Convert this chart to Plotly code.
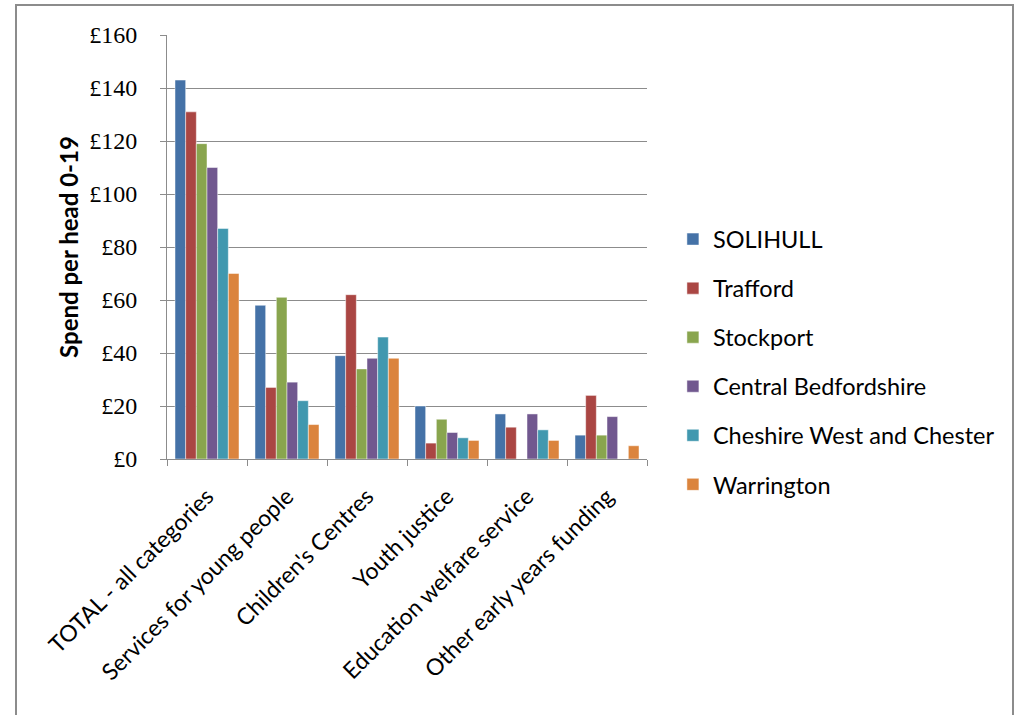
import plotly.graph_objects as go

# Spend per head 0-19, by category and local authority
categories = ["TOTAL - all categories", "Services for young people", "Children's Centres",
              "Youth justice", "Education welfare service", "Other early years funding"]
authorities = ["SOLIHULL", "Trafford", "Stockport", "Central Bedfordshire",
               "Cheshire West and Chester", "Warrington"]
solihull = [143, 58, 39, 20, 17, 9]
trafford = [131, 27, 62, 6, 12, 24]
stockport = [119, 61, 34, 15, 0, 9]
central_beds = [110, 29, 38, 10, 17, 16]
cheshire_wc = [87, 22, 46, 8, 11, 0]
warrington = [70, 13, 38, 7, 7, 5]
colours = ["#4572A7", "#AA4643", "#89A54E", "#71588F", "#4198AF", "#DB843D"]

series = [solihull, trafford, stockport, central_beds, cheshire_wc, warrington]

fig = go.Figure()
for name, vals, col in zip(authorities, series, colours):
    fig.add_trace(go.Bar(x=categories, y=vals, name=name, legendgroup=name,
                         marker=dict(color=col, line=dict(color="rgba(255,255,255,0.6)", width=0.8))))

fig.update_layout(
    width=1020, height=715,
    margin=dict(l=167, r=373, t=35, b=256, autoexpand=False),
    plot_bgcolor="white", paper_bgcolor="white",
    barmode="group", bargap=0.2, bargroupgap=0,
    font=dict(family="Lato, Noto Sans, sans-serif", color="black"),
    showlegend=True,
    legend=dict(x=1.054, y=0.57, xanchor="left", yanchor="top",
                font=dict(size=23.5, family="Lato, sans-serif"),
                tracegroupgap=15.5, bgcolor="rgba(0,0,0,0)"),
)
fig.update_yaxes(range=[0, 160], dtick=20, tickprefix="£", automargin=False,
                 tickfont=dict(family="Liberation Serif, serif", size=24), ticklabelstandoff=18,
                 showgrid=True, gridcolor="#8c8c8c", gridwidth=1,
                 showline=True, linecolor="#8c8c8c", ticks="outside", ticklen=6, tickcolor="#8c8c8c",
                 title=dict(text="<b>Spend per head 0-19</b>", font=dict(size=24, family="Lato, sans-serif"),
                            standoff=3),
                 zeroline=False)
fig.update_xaxes(tickangle=-45, tickfont=dict(size=23, family="Lato, sans-serif"), automargin=False,
                 ticklabelstandoff=14,
                 showline=True, linecolor="#8c8c8c", ticks="outside", ticklen=6, tickcolor="#8c8c8c",
                 tickson="boundaries", mirror=False)

# outer chart border
fig.add_shape(type="rect", xref="paper", yref="paper",
              x0=(16 - 167) / 480, x1=(1013 - 167) / 480,
              y0=(459 - 730) / 424, y1=(459 - 5) / 424,
              line=dict(color="#8c8c8c", width=2), fillcolor="rgba(0,0,0,0)", layer="below")

fig.write_html("out.html", config={"displayModeBar": False},
               post_script="document.body.style.margin='0';")
